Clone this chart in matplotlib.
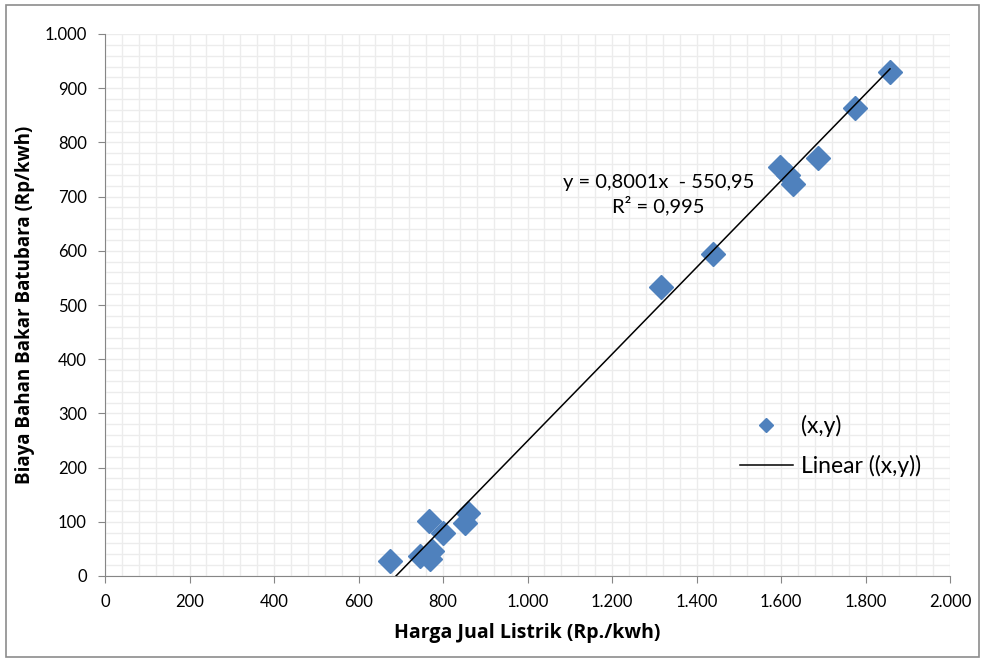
import matplotlib
matplotlib.use("Agg")
import matplotlib.pyplot as plt
import matplotlib.ticker as mticker
from matplotlib.patches import Rectangle
import numpy as np

plt.rcParams['font.family'] = ['Lato', 'DejaVu Sans']

# data
harga_jual = [675, 745, 770, 774, 767, 800, 852, 860,
              1317, 1438, 1598, 1616, 1629, 1688, 1775, 1858]
biaya_bb = [28, 37, 32, 46, 101, 80, 98, 116,
            533, 595, 755, 740, 724, 771, 863, 930]
slope, intercept = 0.8001, -550.95
eq_text = "y = 0,8001x  - 550,95\nR² = 0,995"

x_ticks = np.arange(0, 2001, 200)
y_ticks = np.arange(0, 1001, 100)


def dot_thousands(v, pos):
    return "{:,.0f}".format(v).replace(",", ".")


fig = plt.figure(figsize=(9.85, 6.62), dpi=100)
fig.patches.append(Rectangle((0.006, 0.008), 0.988, 0.985, transform=fig.transFigure,
                             fill=False, edgecolor='#8c8c8c', linewidth=1.2))
ax = fig.add_axes([105/985, 1-576/662, 845/985, 542/662])

ax.set_xlim(0, 2000)
ax.set_ylim(0, 1000)
ax.set_xticks(x_ticks)
ax.set_yticks(y_ticks)
ax.xaxis.set_minor_locator(mticker.MultipleLocator(40))
ax.yaxis.set_minor_locator(mticker.MultipleLocator(20))
ax.xaxis.set_major_formatter(mticker.FuncFormatter(dot_thousands))
ax.yaxis.set_major_formatter(mticker.FuncFormatter(dot_thousands))
ax.grid(True, which='both', color='#ececec', linewidth=1.0)
ax.set_axisbelow(True)

for s in ['top', 'right']:
    ax.spines[s].set_visible(False)
for s in ['left', 'bottom']:
    ax.spines[s].set_color('#868686')
ax.tick_params(which='major', direction='out', length=5, color='#868686',
               labelsize=12, pad=8)
ax.tick_params(which='minor', length=0)

ax.plot(harga_jual, biaya_bb, linestyle='none', marker='D', markersize=12,
        color='#4f81bd', label='(x,y)', zorder=3)

xl = np.array([min(harga_jual), max(harga_jual)])
ax.plot(xl, slope*xl + intercept, color='black', linewidth=1.1,
        label='Linear ((x,y))', zorder=4)

ax.text(1310, 703, eq_text, ha='center', va='center', fontsize=14.5,
        linespacing=1.3)

ax.set_xlabel("Harga Jual Listrik (Rp./kwh)", fontsize=14, fontweight='bold',
              family=['Open Sans', 'DejaVu Sans'], va='center')
ax.set_ylabel("Biaya Bahan Bakar Batubara (Rp/kwh)", fontsize=13.5,
              fontweight='bold', family=['Open Sans', 'DejaVu Sans'], va='center')
ax.xaxis.set_label_coords(0.5, -0.105)
ax.yaxis.set_label_coords(-0.095, 0.5)

leg = ax.legend(loc='upper left', bbox_to_anchor=(0.727, 0.336), frameon=False,
                fontsize=16.5, handlelength=2.3, handletextpad=0.35,
                labelspacing=0.8, markerscale=0.6)

fig.savefig("out.png", dpi=100)
